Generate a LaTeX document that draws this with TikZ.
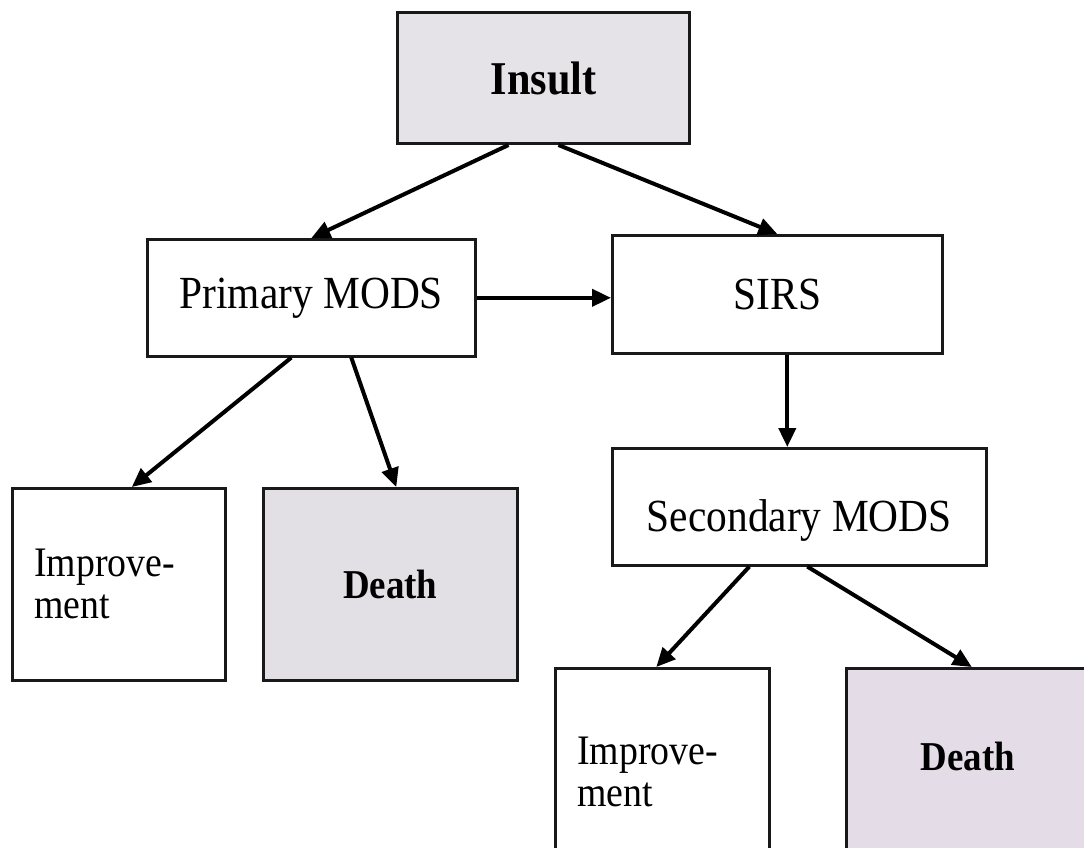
\documentclass[tikz,border=0pt]{standalone}
\usepackage{fontspec}
\setmainfont{Liberation Serif}[FakeStretch=0.9]
\usetikzlibrary{arrows.meta,calc}
\definecolor{insfill}{RGB}{229,227,231}
\definecolor{dlfill}{RGB}{227,224,229}
\definecolor{drfill}{RGB}{228,221,232}
\tikzset{
  box/.style={draw=black!90, line width=2.6pt, rectangle, inner sep=0pt, anchor=north west,
    font=\fontsize{46}{50}\selectfont},
  impbox/.style={box, inner xsep=22pt, align=left, font=\fontsize{42}{42}\selectfont},
  deathbox/.style={box, font=\fontsize{41}{44}\selectfont\bfseries},
  conn/.style={line width=4pt, -{Triangle[length=19pt,width=17pt]}}
}
\begin{document}
\begin{tikzpicture}[x=1pt,y=-1pt]
\clip (0,0) rectangle (1084,847);
\fill[white] (0,0) rectangle (1084,847);
\node[box, line width=3pt, fill=insfill, minimum width=292pt, minimum height=131pt,
      font=\fontsize{47}{50}\selectfont\bfseries] (ins) at (396,11) {Insult};
\node[box, minimum width=328pt, minimum height=117pt] (pm) at (146,238) {Primary MODS};
\node[box, minimum width=330pt, minimum height=118pt] (sirs) at (611,234) {SIRS};
\node[box, minimum width=374pt, minimum height=117pt, text height=50pt, text depth=0pt] (sm) at (611,447) {Secondary MODS};
\node[impbox, minimum width=213pt, minimum height=192pt, text width=169pt] (il) at (11,487) {Improve-\\ment};
\node[deathbox, fill=dlfill, minimum width=254pt, minimum height=192pt] (dl) at (262,487) {Death};
\node[impbox, minimum width=214pt, minimum height=208pt, text width=170pt] (ir) at (554,667) {Improve-\\ment};
\node[deathbox, fill=drfill, minimum width=243pt, minimum height=190pt, text height=30pt, text depth=16pt] (dr) at (845,667) {Death};

\draw[conn] ([xshift=-35pt]ins.south) -- (pm.north);
\draw[conn] ([xshift=15pt]ins.south) -- (sirs.north);
\draw[conn] (pm.east) -- (pm.east -| sirs.west);
\draw[conn] ([xshift=10pt]sirs.south) -- ([xshift=10pt]sirs.south |- sm.north);
\draw[conn] ([xshift=-20pt]pm.south) -- ([xshift=13pt]il.north);
\draw[conn] ([xshift=40pt]pm.south) -- ([xshift=6pt]dl.north);
\draw[conn] ([xshift=-50pt]sm.south) -- ([xshift=-6pt]ir.north);
\draw[conn] ([xshift=8pt]sm.south) -- ([xshift=4pt]dr.north);
\end{tikzpicture}
\end{document}
